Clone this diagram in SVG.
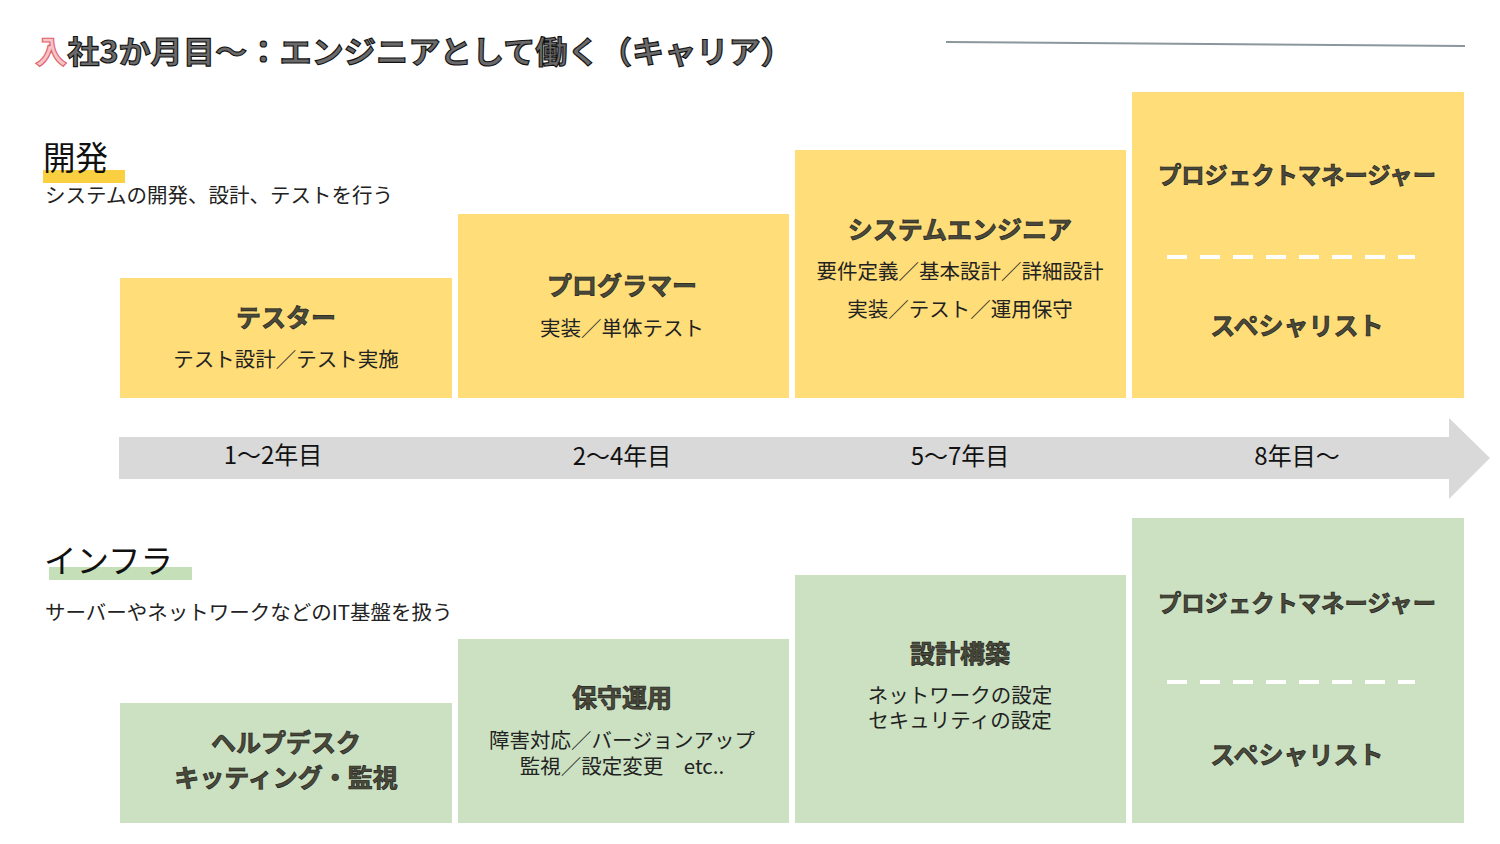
<svg xmlns="http://www.w3.org/2000/svg" width="1500" height="844" viewBox="0 0 1500 844">
<style>
text{font-family:"Noto Sans CJK JP","Noto Sans",sans-serif;fill:#222}
.title{font-size:31px;font-weight:bold;fill:#6a6a6a;stroke:#111;stroke-width:1.1}
.head{font-size:32.5px;fill:#111}
.sub{font-size:20.5px;fill:#222}
.bt{font-size:25px;font-weight:bold;fill:#4a4a3a;stroke:#222;stroke-width:0.7;text-anchor:middle}
.pm{font-size:23.3px}
.bd{font-size:20.5px;fill:#222;text-anchor:middle}
.yr{font-size:24px;fill:#111;text-anchor:middle}
.y{fill:#ffdd78}
.g{fill:#cbe1c1}
.dash{stroke:#fff;stroke-width:4;stroke-dasharray:20 13;fill:none}
</style>
<rect width="1500" height="844" fill="#fff"/>
<g id="title">
<text class="title" x="35" y="63" textLength="758" lengthAdjust="spacingAndGlyphs"><tspan style="fill:#f6c4c4;stroke:#e06070">入</tspan>社3か月目～：エンジニアとして働く（キャリア）</text>
<line x1="946" y1="42" x2="1465" y2="46" stroke="#8a979c" stroke-width="2"/>
</g>
<g id="dev-header">
<rect x="43" y="170" width="82" height="13" fill="#fbd040"/>
<text class="head" x="43" y="170">開発</text>
<text class="sub" x="45" y="203">システムの開発、設計、テストを行う</text>
</g>
<g id="dev-tester">
<rect class="y" x="120" y="278" width="332" height="120"/>
<text class="bt" x="286" y="327">テスター</text>
<text class="bd" x="286" y="367">テスト設計／テスト実施</text>
</g>
<g id="dev-programmer">
<rect class="y" x="458" y="214" width="331" height="184"/>
<text class="bt" x="622" y="295">プログラマー</text>
<text class="bd" x="622" y="336">実装／単体テスト</text>
</g>
<g id="dev-se">
<rect class="y" x="795" y="150" width="331" height="248"/>
<text class="bt" x="960" y="239">システムエンジニア</text>
<text class="bd" x="960" y="279">要件定義／基本設計／詳細設計</text>
<text class="bd" x="960" y="317">実装／テスト／運用保守</text>
</g>
<g id="dev-pm">
<rect class="y" x="1132" y="92" width="332" height="306"/>
<text class="bt pm" x="1297" y="184">プロジェクトマネージャー</text>
<line class="dash" x1="1167" y1="257" x2="1415" y2="257"/>
<text class="bt" x="1297" y="335">スペシャリスト</text>
</g>
<g id="connectors">
<path d="M119 437 H1449 V418 L1490 458 L1449 499 V479 H119 Z" fill="#d9d9d9"/>
</g>
<g id="years">
<text class="yr" x="273" y="464">1～2年目</text>
<text class="yr" x="622" y="465">2～4年目</text>
<text class="yr" x="960" y="465">5～7年目</text>
<text class="yr" x="1297" y="465">8年目～</text>
</g>
<g id="infra-header">
<rect x="49" y="567" width="143" height="13" fill="#c5dfb8"/>
<text class="head" x="44" y="573">インフラ</text>
<text class="sub" x="45" y="620">サーバーやネットワークなどのIT基盤を扱う</text>
</g>
<g id="infra-helpdesk">
<rect class="g" x="120" y="703" width="332" height="120"/>
<text class="bt" x="286" y="752">ヘルプデスク</text>
<text class="bt" x="286" y="787">キッティング・監視</text>
</g>
<g id="infra-ops">
<rect class="g" x="458" y="639" width="331" height="184"/>
<text class="bt" x="622" y="707">保守運用</text>
<text class="bd" x="622" y="748">障害対応／バージョンアップ</text>
<text class="bd" x="622" y="774">監視／設定変更　etc..</text>
</g>
<g id="infra-build">
<rect class="g" x="795" y="575" width="331" height="248"/>
<text class="bt" x="960" y="663">設計構築</text>
<text class="bd" x="960" y="703">ネットワークの設定</text>
<text class="bd" x="960" y="728">セキュリティの設定</text>
</g>
<g id="infra-pm">
<rect class="g" x="1132" y="518" width="332" height="305"/>
<text class="bt pm" x="1297" y="612">プロジェクトマネージャー</text>
<line class="dash" x1="1167" y1="682" x2="1415" y2="682"/>
<text class="bt" x="1297" y="764">スペシャリスト</text>
</g>
</svg>
